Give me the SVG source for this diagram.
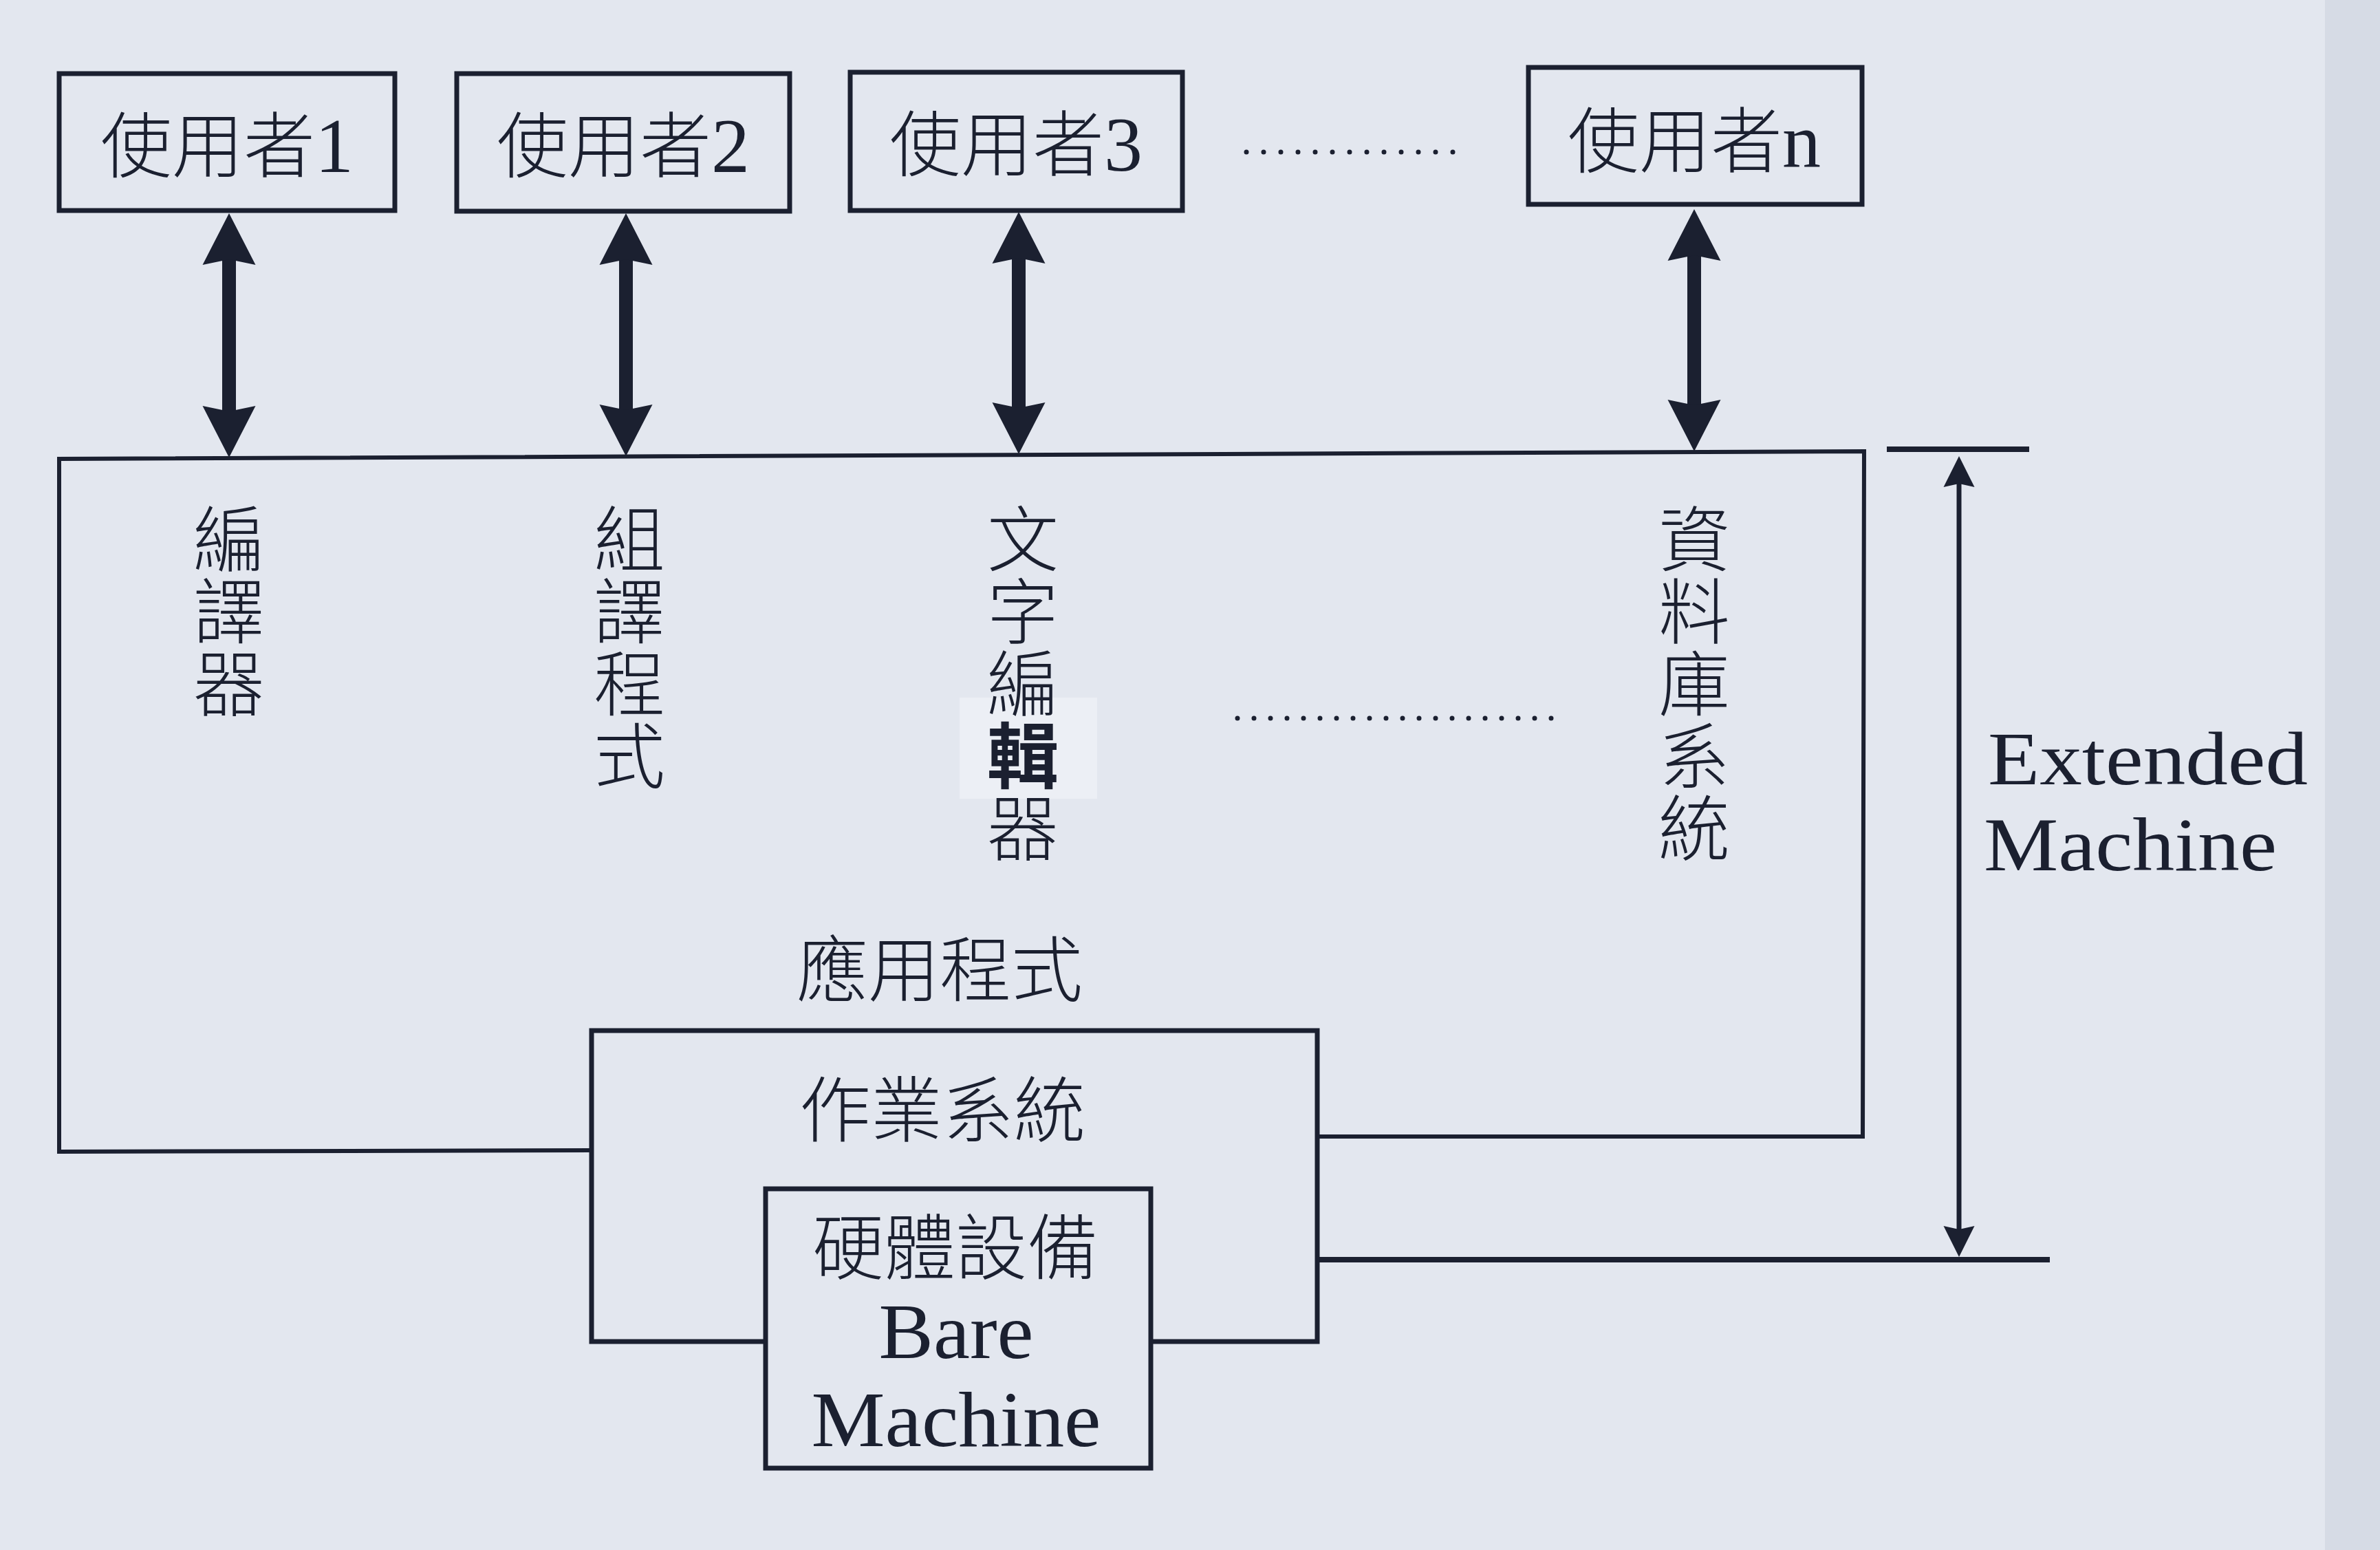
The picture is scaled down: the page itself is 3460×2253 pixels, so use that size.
<svg xmlns="http://www.w3.org/2000/svg" width="3460" height="2253" viewBox="0 0 3460 2253">
<style>
.ln{fill:none;stroke:#1b2030;stroke-linejoin:miter}
.box{fill:#e3e7ef;stroke:#1b2030;stroke-width:7}
.cjk{font-family:"Noto Sans CJK TC","Noto Sans CJK SC",sans-serif;font-size:104px;font-weight:300;fill:#1b2030}
.vt{font-family:"Noto Sans CJK TC","Noto Sans CJK SC",sans-serif;font-size:104px;font-weight:300;fill:#1b2030;writing-mode:vertical-rl;letter-spacing:1px}
.ser{font-family:"Liberation Serif",serif;fill:#1b2030}
.dots{fill:none;stroke:#1b2030;stroke-width:7;stroke-linecap:round}
</style>
<defs>
<marker id="bigHead" markerUnits="userSpaceOnUse" orient="auto-start-reverse" refX="0" refY="0" markerWidth="10" markerHeight="10" overflow="visible">
<path d="M60,0 L-15,-38.5 L-7,0 L-15,38.5 Z" fill="#1b2030"/>
</marker>
<marker id="smallHead" markerUnits="userSpaceOnUse" orient="auto-start-reverse" refX="0" refY="0" markerWidth="10" markerHeight="10" overflow="visible">
<path d="M30,0 L-15,-22.5 L-10,0 L-15,22.5 Z" fill="#1b2030"/>
</marker>
</defs>
<rect x="0" y="0" width="3460" height="2253" fill="#e3e7ef"/>
<rect x="3380" y="0" width="80" height="2253" fill="#d6dbe5"/>

<g id="user1">
<rect class="box" x="86" y="107" width="488" height="199"/>
<text class="cjk" x="330" y="250" text-anchor="middle">使用者<tspan class="ser" font-size="112">1</tspan></text>
</g>
<g id="user2">
<rect class="box" x="664" y="107" width="484" height="200"/>
<text class="cjk" x="906" y="250" text-anchor="middle">使用者<tspan class="ser" font-size="112">2</tspan></text>
</g>
<g id="user3">
<rect class="box" x="1236" y="105" width="483" height="201"/>
<text class="cjk" x="1477" y="248" text-anchor="middle">使用者<tspan class="ser" font-size="112">3</tspan></text>
</g>
<g id="userDots">
<line class="dots" x1="1812" y1="221" x2="2113" y2="221" stroke-dasharray="0 25"/>
</g>
<g id="userN">
<rect class="box" x="2222" y="98" width="485" height="199"/>
<text class="cjk" x="2463" y="243" text-anchor="middle">使用者<tspan class="ser" font-size="112">n</tspan></text>
</g>

<g id="applications">
<path class="ln" stroke-width="6" d="M860,1672 L86,1674 L86,667 L2710,656 L2708,1652 L1915,1652"/>
<text class="vt" x="333" y="731">編譯器</text>
<text class="vt" x="915" y="731">組譯程式</text>
<rect x="1395" y="1014" width="200" height="147" fill="#eceff5"/>
<text class="vt" x="1487" y="731">文字編<tspan font-weight="bold">輯</tspan>器</text>
<line class="dots" x1="1799" y1="1044" x2="2256" y2="1044" stroke-dasharray="0 24"/>
<text class="vt" x="2463" y="731">資料庫系統</text>
<text class="cjk" x="1366" y="1448" text-anchor="middle">應用程式</text>
</g>

<g id="os">
<rect class="box" x="860" y="1498" width="1055" height="452"/>
<text class="cjk" x="1370" y="1652" text-anchor="middle">作業系統</text>
</g>

<g id="hardware">
<rect class="box" x="1113" y="1728" width="560" height="406"/>
<text class="cjk" x="1389" y="1852" text-anchor="middle">硬體設備</text>
<text class="ser" x="1390" y="1974" font-size="114" text-anchor="middle" textLength="225" lengthAdjust="spacingAndGlyphs">Bare</text>
<text class="ser" x="1390" y="2102" font-size="114" text-anchor="middle" textLength="421" lengthAdjust="spacingAndGlyphs">Machine</text>
</g>

<g id="extended">
<line class="ln" stroke-width="8" x1="2743" y1="653" x2="2950" y2="653"/>
<line class="ln" stroke-width="8" x1="1915" y1="1831" x2="2980" y2="1831"/>
<text class="ser" x="2890" y="1140" font-size="110" textLength="465" lengthAdjust="spacingAndGlyphs">Extended</text>
<text class="ser" x="2884" y="1265" font-size="110" textLength="426" lengthAdjust="spacingAndGlyphs">Machine</text>
</g>

<g id="connectors">
<line class="ln" stroke-width="20" x1="333" y1="370" x2="333" y2="605" marker-start="url(#bigHead)" marker-end="url(#bigHead)"/>
<line class="ln" stroke-width="20" x1="910" y1="370" x2="910" y2="603" marker-start="url(#bigHead)" marker-end="url(#bigHead)"/>
<line class="ln" stroke-width="20" x1="1481" y1="368" x2="1481" y2="600" marker-start="url(#bigHead)" marker-end="url(#bigHead)"/>
<line class="ln" stroke-width="20" x1="2463" y1="364" x2="2463" y2="596" marker-start="url(#bigHead)" marker-end="url(#bigHead)"/>
<line class="ln" stroke-width="7" x1="2848" y1="693" x2="2848" y2="1797" marker-start="url(#smallHead)" marker-end="url(#smallHead)"/>
</g>
</svg>
